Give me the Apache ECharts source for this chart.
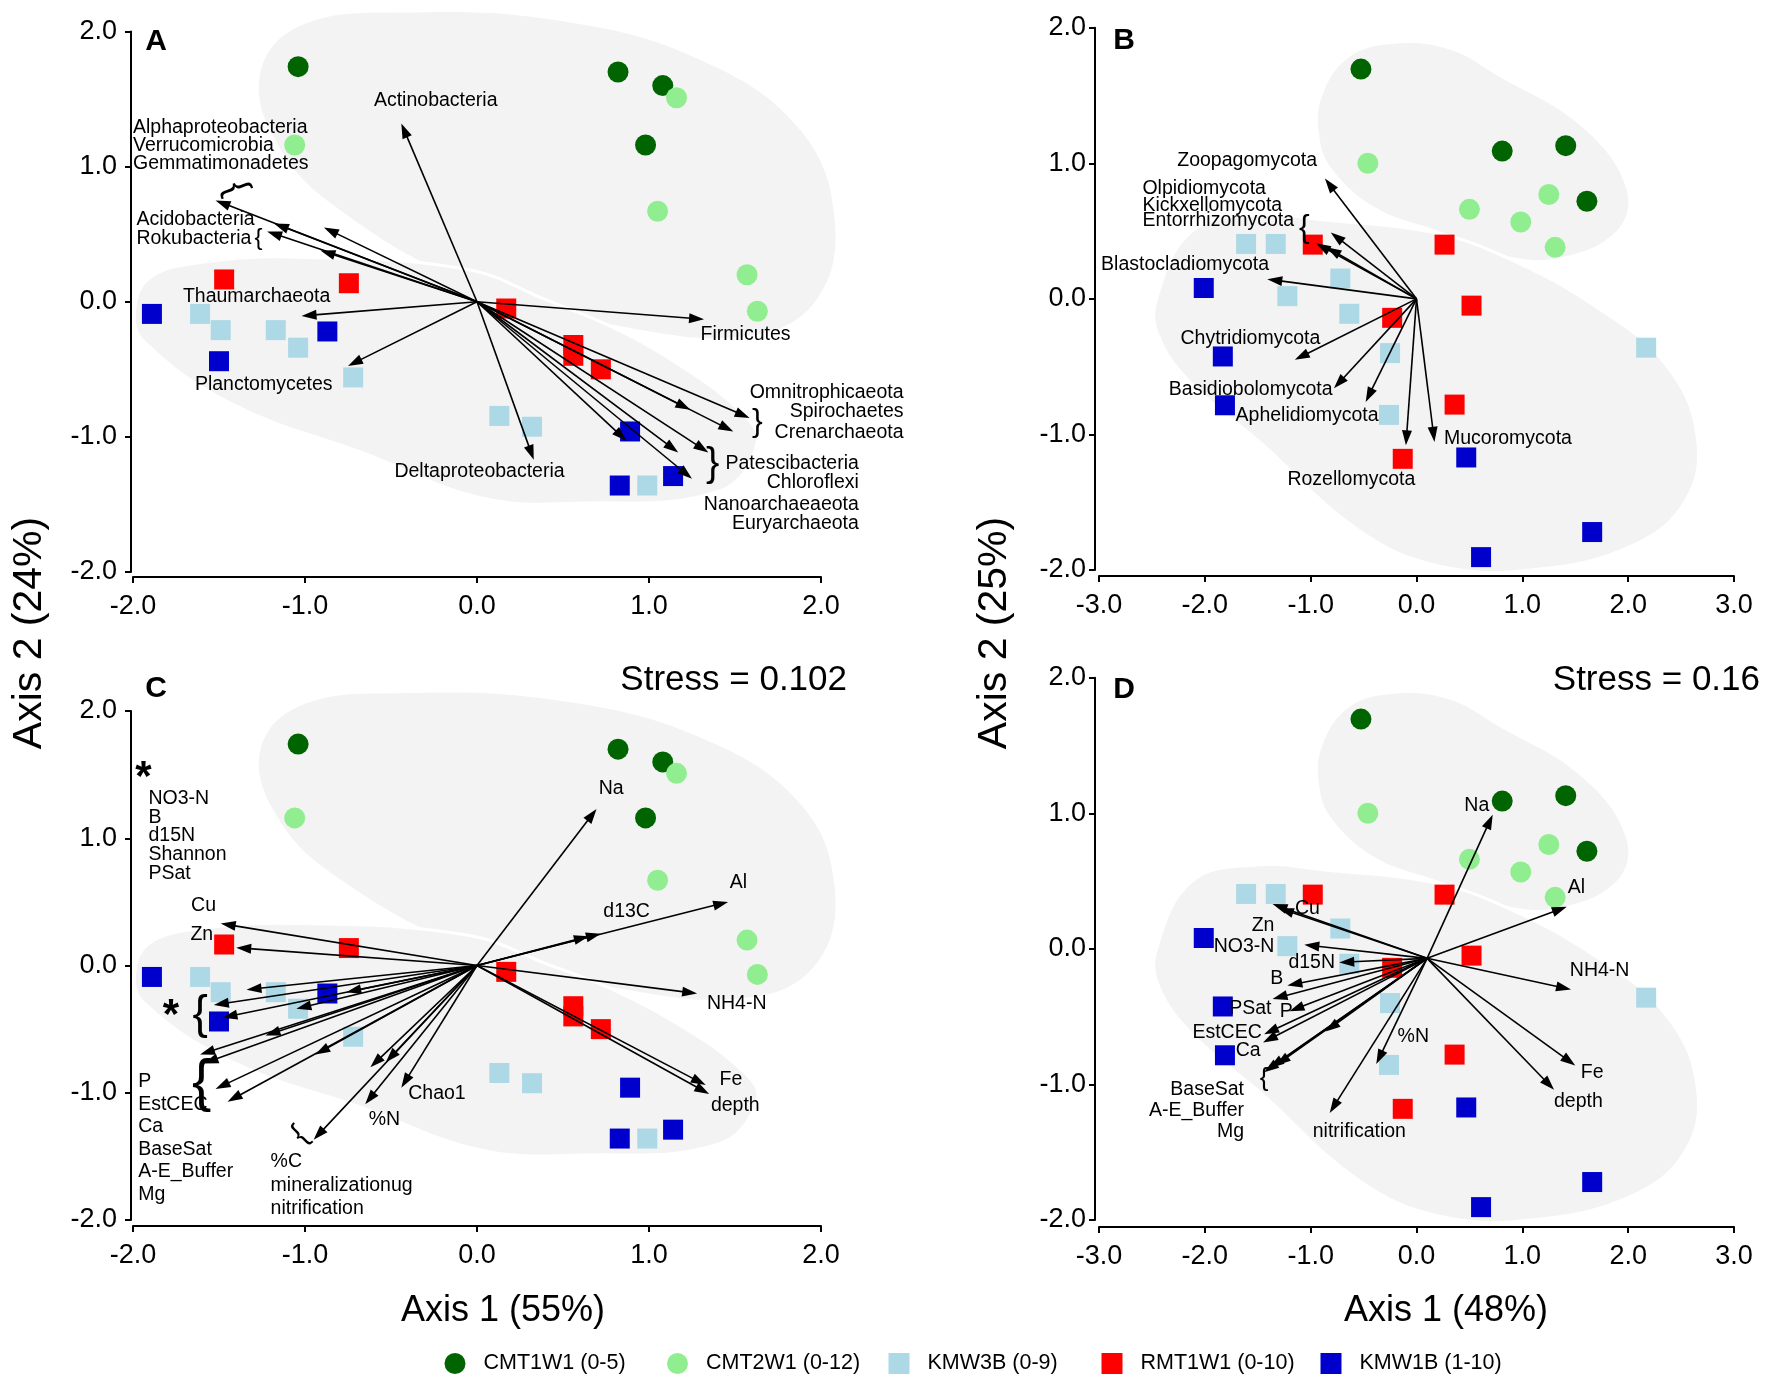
<!DOCTYPE html>
<html><head><meta charset="utf-8">
<script src="https://cdn.jsdelivr.net/npm/echarts/dist/echarts.min.js"></script>
<style>html,body{margin:0;padding:0;background:#fff}#c{width:1772px;height:1400px}</style>
</head><body><div id="c"></div>
<script>
// ---------------- DATA ----------------
const groups = ['CMT1W1 (0-5)', 'CMT2W1 (0-12)', 'KMW3B (0-9)', 'RMT1W1 (0-10)', 'KMW1B (1-10)'];

// Bacterial ordination (panels A and C)
const bac_CMT1W1 = [[-1.04,1.74],[0.82,1.70],[1.08,1.60],[0.98,1.16]];
const bac_CMT2W1 = [[-1.06,1.16],[1.16,1.51],[1.05,0.67],[1.57,0.20],[1.63,-0.07]];
const bac_KMW3B  = [[-1.61,-0.09],[-1.49,-0.21],[-1.17,-0.21],[-1.04,-0.34],[-0.72,-0.56],[0.13,-0.845],[0.32,-0.925],[0.99,-1.36]];
const bac_RMT1W1 = [[-1.47,0.165],[-0.745,0.137],[0.17,-0.05],[0.56,-0.32],[0.56,-0.40],[0.72,-0.50]];
const bac_KMW1B  = [[-1.89,-0.09],[-0.87,-0.22],[-1.50,-0.44],[0.89,-0.96],[0.83,-1.36],[1.14,-1.29]];

// Fungal ordination (panels B and D)
const fun_CMT1W1 = [[-0.525,1.695],[0.81,1.09],[1.41,1.13],[1.61,0.72]];
const fun_CMT2W1 = [[-0.46,1.0],[0.50,0.66],[1.25,0.77],[0.985,0.567],[1.31,0.38]];
const fun_KMW3B  = [[-1.61,0.405],[-1.33,0.405],[-0.72,0.15],[-1.22,0.02],[-0.635,-0.11],[-0.25,-0.40],[-0.26,-0.856],[2.17,-0.36]];
const fun_RMT1W1 = [[-0.98,0.40],[-0.23,-0.14],[-0.13,-1.18],[0.265,0.40],[0.52,-0.05],[0.36,-0.78]];
const fun_KMW1B  = [[-2.01,0.08],[-1.83,-0.425],[-1.81,-0.785],[0.47,-1.17],[1.66,-1.72],[0.61,-1.905]];

// Vector tips (arrow ends)
const vecA = [[-0.44,1.32],[-1.52,0.75],[-1.18,0.58],[-1.22,0.52],[-0.89,0.55],[-0.91,0.38],[-1.02,-0.105],[-0.75,-0.475],
  [0.33,-1.17],[1.32,-0.13],[1.585,-0.86],[1.49,-0.96],[1.24,-0.80],[1.345,-1.115],[1.17,-1.115],[1.25,-1.31],[0.87,-1.03]];
const vecB = [[-0.865,0.887],[-0.81,0.49],[-0.95,0.41],[-0.85,0.38],[-1.41,0.145],[-1.15,-0.45],[-0.78,-0.66],[-0.48,-0.76],[-0.10,-1.08],[0.17,-1.055]];
const vecC = [[-1.49,0.33],[-1.40,0.14],[-1.34,-0.19],[-1.53,-0.31],[-1.48,-0.41],[-1.05,-0.34],[-0.76,-0.21],
  [-1.61,-0.70],[-1.59,-0.77],[-1.52,-0.97],[-1.45,-1.07],[-1.23,-0.55],[-0.94,-0.70],
  [-0.95,-1.37],[-0.62,-0.80],[-0.53,-0.76],[-0.65,-1.09],[-0.44,-0.96],
  [0.695,1.23],[1.46,0.50],[0.72,0.25],[0.65,0.23],[1.28,-0.22],[1.33,-0.94],[1.35,-1.01]];
const vecD = [[-1.36,0.33],[-1.30,0.30],[-1.06,0.03],[-0.73,-0.10],[-1.22,-0.27],[-1.36,-0.37],[-1.20,-0.46],[-1.44,-0.63],[-1.45,-0.69],
  [-1.44,-0.91],[-1.39,-0.88],[-1.33,-0.86],[-0.86,-0.61],[-0.38,-0.85],[-0.82,-1.21],
  [0.72,0.99],[1.42,0.31],[1.46,-0.30],[1.50,-0.86],[1.30,-1.04]];
const originABC = [0, 0];
const originD = [0.10, -0.07];

// Vector labels [x, y, text, anchor]
const labelsA = [
  [-2.0,1.29,'Alphaproteobacteria','left'],[-2.0,1.155,'Verrucomicrobia','left'],[-2.0,1.02,'Gemmatimonadetes','left'],
  [-1.98,0.61,'Acidobacteria','left'],[-1.98,0.47,'Rokubacteria','left'],[-1.71,0.04,'Thaumarchaeota','left'],
  [-1.64,-0.61,'Planctomycetes','left'],[-0.24,1.49,'Actinobacteria','center'],[-0.48,-1.26,'Deltaproteobacteria','left'],
  [1.30,-0.245,'Firmicutes','left'],[2.48,-0.67,'Omnitrophicaeota','right'],[2.48,-0.81,'Spirochaetes','right'],
  [2.48,-0.97,'Crenarchaeota','right'],[2.22,-1.20,'Patescibacteria','right'],[2.22,-1.34,'Chloroflexi','right'],
  [2.22,-1.50,'Nanoarchaeaeota','right'],[2.22,-1.64,'Euryarchaeota','right']];
const labelsB = [
  [-1.60,1.02,'Zoopagomycota','center'],[-2.59,0.81,'Olpidiomycota','left'],[-2.59,0.69,'Kickxellomycota','left'],
  [-2.59,0.58,'Entorrhizomycota','left'],[-2.98,0.25,'Blastocladiomycota','left'],[-2.23,-0.29,'Chytridiomycota','left'],
  [-2.34,-0.67,'Basidiobolomycota','left'],[-1.71,-0.86,'Aphelidiomycota','left'],[-1.22,-1.33,'Rozellomycota','left'],
  [0.26,-1.03,'Mucoromycota','left']];
const labelsC = [
  [-1.91,1.31,'NO3-N','left'],[-1.91,1.165,'B','left'],[-1.91,1.02,'d15N','left'],[-1.91,0.87,'Shannon','left'],[-1.91,0.72,'PSat','left'],
  [-1.59,0.47,'Cu','center'],[-1.60,0.24,'Zn','center'],
  [-1.97,-0.91,'P','left'],[-1.97,-1.09,'EstCEC','left'],[-1.97,-1.27,'Ca','left'],[-1.97,-1.45,'BaseSat','left'],
  [-1.97,-1.62,'A-E_Buffer','left'],[-1.97,-1.80,'Mg','left'],
  [-0.40,-1.01,'Chao1','left'],[-0.63,-1.21,'%N','left'],
  [-1.20,-1.54,'%C','left'],[-1.20,-1.73,'mineralizationug','left'],[-1.20,-1.91,'nitrification','left'],
  [0.78,1.39,'Na','center'],[1.52,0.65,'Al','center'],[0.87,0.42,'d13C','center'],[1.51,-0.30,'NH4-N','center'],
  [1.41,-0.90,'Fe','left'],[1.36,-1.10,'depth','left']];
const labelsD = [
  [-1.03,0.30,'Cu','center'],[-1.45,0.17,'Zn','center'],[-1.63,0.02,'NO3-N','center'],[-0.99,-0.10,'d15N','center'],
  [-1.32,-0.22,'B','center'],[-1.57,-0.44,'PSat','center'],[-1.23,-0.46,'P','center'],[-1.79,-0.62,'EstCEC','center'],
  [-1.59,-0.75,'Ca','center'],[-1.63,-1.04,'BaseSat','right'],[-1.63,-1.19,'A-E_Buffer','right'],[-1.63,-1.35,'Mg','right'],
  [-0.03,-0.65,'%N','center'],[-0.54,-1.35,'nitrification','center'],
  [0.57,1.06,'Na','center'],[1.51,0.45,'Al','center'],[1.73,-0.16,'NH4-N','center'],[1.66,-0.91,'Fe','center'],[1.53,-1.13,'depth','center']];

// Grouping marks [x, y, glyph]
const marksA = [[-1.40,0.84,'{'],[-1.27,0.47,'{'],[1.63,-0.89,'}'],[1.37,-1.21,'}']];
const marksB = [[-1.06,0.52,'{']];
const marksC = [[-1.94,1.47,'*'],[-1.78,-0.40,'*'],[-1.61,-0.39,'{'],[-1.60,-0.93,'{'],[-1.03,-1.33,'{']];
const marksD = [[-1.44,-0.96,'{']];

// Group hulls (outline vertices)
const hullBacUpper = [[-1.26,1.69],[-1.03,2.04],[-0.45,2.14],[0.48,2.08],[1.30,1.79],[1.88,1.27],[2.08,0.60],[1.97,0.01],
  [1.59,-0.25],[0.83,-0.18],[-0.04,0.13],[-0.84,0.72],[-1.17,1.19]];
const hullBacLower = [[-1.99,-0.05],[-1.90,0.18],[-1.61,0.29],[-1.03,0.33],[-0.06,0.24],[0.41,0.01],[0.79,-0.19],[1.18,-0.47],
  [1.53,-0.81],[1.63,-1.04],[1.41,-1.40],[0.60,-1.49],[0.02,-1.45],[-0.64,-1.13],[-1.42,-0.76],[-1.94,-0.29]];
const hullFunUpper = [[-0.92,1.21],[-0.89,1.50],[-0.64,1.78],[-0.23,1.88],[0.31,1.84],[0.78,1.64],[1.56,1.27],[1.98,0.82],
  [1.89,0.50],[1.32,0.30],[0.78,0.33],[0.21,0.50],[-0.38,0.67],[-0.80,0.96]];
const hullFunLower = [[-2.46,-0.01],[-2.12,0.50],[-1.49,0.62],[-0.85,0.58],[0.09,0.50],[0.78,0.33],[1.72,-0.07],[2.36,-0.49],
  [2.65,-1.00],[2.55,-1.48],[2.04,-1.82],[1.09,-2.00],[0.21,-1.97],[-0.54,-1.71],[-1.49,-1.05],[-2.12,-0.63],[-2.43,-0.29]];

// ---------------- STYLE ----------------
const colors = ['#006400', '#90EE90', '#ADD8E6', '#FF0000', '#0000CD'];
const symbols = ['circle', 'circle', 'rect', 'rect', 'rect'];
const FONT = 'Liberation Sans';
const legendLeft = [439.5, 662, 883.5, 1096.5, 1315.5];

const panels = [
  {grid:{left:133, top:31.5, width:688, height:540.5}, xr:[-2,2], xOff:5, yOff:2, yMargin:14, xMargin:16,
   pts:[bac_CMT1W1,bac_CMT2W1,bac_KMW3B,bac_RMT1W1,bac_KMW1B], hulls:[hullBacUpper,hullBacLower], vec:vecA, origin:originABC,
   labels:labelsA, marks:marksA, markStyle:[[36,-70],[24,0],[32,0],[40,0]]},
  {grid:{left:1099, top:27.7, width:635, height:542.3}, xr:[-3,3], xOff:6, yOff:4, yMargin:9, xMargin:16,
   pts:[fun_CMT1W1,fun_CMT2W1,fun_KMW3B,fun_RMT1W1,fun_KMW1B], hulls:[hullFunUpper,hullFunLower], vec:vecB, origin:originABC,
   labels:labelsB, marks:marksB, markStyle:[[32,0]]},
  {grid:{left:133, top:711, width:688, height:509}, xr:[-2,2], xOff:6, yOff:2, yMargin:14, xMargin:16,
   pts:[bac_CMT1W1,bac_CMT2W1,bac_KMW3B,bac_RMT1W1,bac_KMW1B], hulls:[hullBacUpper,hullBacLower], vec:vecC, origin:originABC,
   labels:labelsC, marks:marksC, markStyle:[[42,0],[42,0],[46,0],[58,0],[30,45]]},
  {grid:{left:1099, top:677.7, width:635, height:542.3}, xr:[-3,3], xOff:7, yOff:4, yMargin:9, xMargin:16,
   pts:[fun_CMT1W1,fun_CMT2W1,fun_KMW3B,fun_RMT1W1,fun_KMW1B], hulls:[hullFunUpper,hullFunLower], vec:vecD, origin:originD,
   labels:labelsD, marks:marksD, markStyle:[[26,0]]}
];

const axisCommon = {
  type:'value', interval:1, splitLine:{show:false},
  axisLine:{onZero:false, lineStyle:{color:'#000', width:2}},
  axisTick:{show:true, length:6, lineStyle:{color:'#000', width:2}},
  axisLabel:{color:'#000', fontSize:27, fontFamily:FONT, formatter:v => v.toFixed(1)}
};

const grids = [], xAxes = [], yAxes = [], series = [];
panels.forEach((p, i) => {
  grids.push(Object.assign({outerBoundsMode:'none', containLabel:false}, p.grid));
  xAxes.push(Object.assign({}, axisCommon, {gridIndex:i, min:p.xr[0], max:p.xr[1], offset:p.xOff,
    axisLabel:Object.assign({}, axisCommon.axisLabel, {margin:p.xMargin})}));
  yAxes.push(Object.assign({}, axisCommon, {gridIndex:i, min:-2, max:2, offset:p.yOff,
    axisLabel:Object.assign({}, axisCommon.axisLabel, {margin:p.yMargin})}));

  // hulls
  const hulls = p.hulls;
  series.push({
    type:'custom', xAxisIndex:i, yAxisIndex:i, silent:true, z:1, clip:false,
    data: hulls.map(h => h[0]), encode:{x:0, y:1},
    renderItem: (params, api) => {
      const pts = hulls[params.dataIndex].map(q => api.coord(q));
      return {type:'polygon', shape:{points:pts, smooth:0.4},
        style:{fill:'#f3f3f3', stroke:'#ffffff', lineWidth:params.dataIndex === 1 ? 3 : 0}};
    }
  });

  // points
  p.pts.forEach((arr, g) => {
    series.push({
      name:groups[g], type:'scatter', xAxisIndex:i, yAxisIndex:i, z:3,
      symbol:symbols[g], symbolSize:g < 2 ? 21 : 20, data:arr,
      itemStyle:{color:colors[g], opacity:1}, silent:true
    });
  });

  // vectors
  const origin = p.origin;
  series.push({
    type:'custom', xAxisIndex:i, yAxisIndex:i, silent:true, z:5, clip:false,
    data:p.vec, encode:{x:0, y:1},
    renderItem: (params, api) => {
      const p0 = api.coord(origin);
      const p1 = api.coord([api.value(0), api.value(1)]);
      const dx = p1[0]-p0[0], dy = p1[1]-p0[1];
      const len = Math.hypot(dx, dy) || 1;
      const ux = dx/len, uy = dy/len, hl = 15, hw = 5;
      const bx = p1[0]-ux*hl, by = p1[1]-uy*hl;
      return {type:'group', children:[
        {type:'line', shape:{x1:p0[0], y1:p0[1], x2:bx+ux*2, y2:by+uy*2}, style:{stroke:'#000', lineWidth:1.6}},
        {type:'polygon', shape:{points:[[p1[0],p1[1]],[bx-uy*hw, by+ux*hw],[bx+uy*hw, by-ux*hw]]}, style:{fill:'#000'}}
      ]};
    }
  });

  // labels
  const labels = p.labels;
  series.push({
    type:'custom', xAxisIndex:i, yAxisIndex:i, silent:true, z:7, clip:false,
    data:labels.map(l => [l[0], l[1]]), encode:{x:0, y:1},
    renderItem: (params, api) => {
      const l = labels[params.dataIndex];
      const c = api.coord([l[0], l[1]]);
      return {type:'text', x:c[0], y:c[1], style:{text:l[2], fill:'#000', fontSize:19.5, fontFamily:FONT,
        align:l[3], verticalAlign:'middle'}};
    }
  });

  // grouping marks
  const marks = p.marks, ms = p.markStyle;
  series.push({
    type:'custom', xAxisIndex:i, yAxisIndex:i, silent:true, z:7, clip:false,
    data:marks.map(l => [l[0], l[1]]), encode:{x:0, y:1},
    renderItem: (params, api) => {
      const m = marks[params.dataIndex], st = ms[params.dataIndex];
      const c = api.coord([m[0], m[1]]);
      return {type:'text', x:c[0], y:c[1], rotation:st[1]*Math.PI/180,
        style:{text:m[2], fill:'#000', fontSize:st[0], fontFamily:FONT, fontWeight:m[2] === '*' ? 'bold' : 'normal',
          align:'center', verticalAlign:'middle'}};
    }
  });
});

const T = (x, y, text, size, opts) => Object.assign({type:'text', x, y, silent:true, z:10,
  style:Object.assign({text, fill:'#000', fontSize:size, fontFamily:FONT, align:'center', verticalAlign:'middle'}, (opts||{}).style||{})},
  opts && opts.rotation ? {rotation:opts.rotation} : {});

const graphic = [
  T(156, 42, 'A', 30, {style:{fontWeight:'bold'}}),
  T(1124, 41, 'B', 30, {style:{fontWeight:'bold'}}),
  T(156, 689, 'C', 30, {style:{fontWeight:'bold'}}),
  T(1124, 690, 'D', 30, {style:{fontWeight:'bold'}}),
  T(847, 680, 'Stress = 0.102', 35, {style:{align:'right'}}),
  T(1760, 680, 'Stress = 0.16', 35, {style:{align:'right'}}),
  T(30, 633, 'Axis 2 (24%)', 41, {rotation:Math.PI/2}),
  T(995, 633, 'Axis 2 (25%)', 41, {rotation:Math.PI/2}),
  T(503, 1311, 'Axis 1 (55%)', 36),
  T(1446, 1311, 'Axis 1 (48%)', 36)
];

const legends = groups.map((g, k) => ({
  left:legendLeft[k], top:1347.5, itemWidth:21, itemHeight:21, selectedMode:false, orient:'horizontal',
  textStyle:{fontSize:21.5, fontFamily:FONT, color:'#000', padding:[0,0,0,13]},
  data:[{name:g, icon:symbols[k]}]
}));

const chart = echarts.init(document.getElementById('c'), null, {renderer:'canvas'});
chart.setOption({
  animation:false,
  backgroundColor:'#ffffff',
  textStyle:{fontFamily:FONT},
  grid:grids, xAxis:xAxes, yAxis:yAxes, series,
  graphic,
  legend:legends
});
</script></body></html>
